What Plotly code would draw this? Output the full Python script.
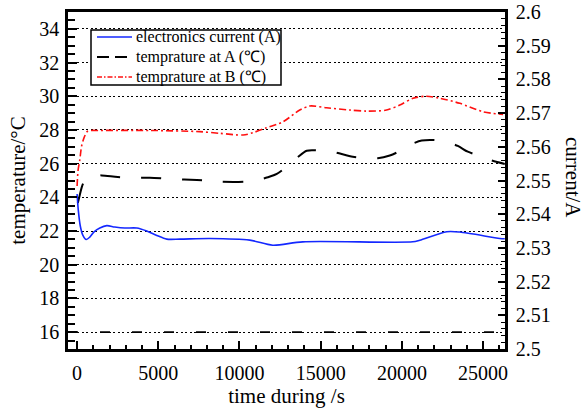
import plotly.graph_objects as go

# ---------------- data ----------------
time_current = [0, 74, 197, 351, 567, 782, 1028, 1398, 1829, 2321, 2937, 3676, 4292,
                4908, 5523, 6324, 8171, 10634, 12050, 13897, 20671, 21102, 22765,
                23565, 26028, 26336]
current_A = [2.5460, 2.5412, 2.5365, 2.5338, 2.5325, 2.5332, 2.5347, 2.5359, 2.5366,
             2.5362, 2.5359, 2.5359, 2.5350, 2.5337, 2.5326, 2.5326, 2.5328, 2.5323,
             2.5308, 2.5318, 2.5318, 2.5323, 2.5348, 2.5347, 2.5328, 2.5327]

time_A = [43, 166, 289, 413, 598, 967, 1521, 2506, 3553, 4477, 5893, 7371, 8171, 8787,
          10326, 11127, 11743, 12297, 13036, 13590, 14144, 14945, 15684, 16977, 17592,
          18516, 19255, 19871, 20487, 21226, 22026, 22765, 23442, 24058, 24797, 25413,
          26336]
temp_A = [23.66, 24.14, 24.61, 24.91, 25.15, 25.30, 25.30, 25.21, 25.15, 25.17, 25.09,
          25.03, 24.99, 24.93, 24.93, 25.03, 25.19, 25.39, 25.92, 26.39, 26.77, 26.78,
          26.71, 26.41, 26.35, 26.32, 26.48, 26.75, 27.11, 27.37, 27.40, 27.29, 27.05,
          26.71, 26.45, 26.22, 25.98]

time_B = [0, 62, 166, 271, 413, 616, 782, 1398, 4477, 7556, 8787, 10222, 10837, 11663,
          12685, 13713, 14329, 15357, 16792, 17820, 19052, 19871, 20690, 21515, 22334,
          23565, 25000, 26232]
temp_B = [24.67, 25.62, 26.22, 27.01, 27.50, 27.90, 27.96, 27.97, 27.97, 27.90, 27.80,
          27.70, 27.84, 28.13, 28.49, 29.18, 29.42, 29.32, 29.18, 29.12, 29.18, 29.48,
          29.88, 30.00, 29.88, 29.58, 29.08, 28.92]

x_range = [-560, 26350]
temp_range = [15, 35]
current_range = [2.5, 2.6]
ref_line_temp = 16

names = ["electronics current (A)", "temprature at A (\u2103)", "temprature at B (\u2103)"]
colors = ["#1428ff", "black", "#ff1010"]
dashes = ["solid", "20px,21px", "7px,3px,2px,3px"]
widths = [1.6, 2.0, 1.6]
legend_dashes = ["solid", "12px,6px", "5px,2px,1.5px,2px"]

FONT = "'Liberation Serif', 'Times New Roman', Times, serif"

fig = go.Figure()
fig.add_trace(go.Scatter(x=time_current, y=current_A, name=names[0], yaxis="y2",
                         mode="lines", line=dict(color=colors[0], width=widths[0],
                                                 shape="spline", smoothing=0.8)))
fig.add_trace(go.Scatter(x=time_A, y=temp_A, name=names[1], mode="lines",
                         line=dict(color=colors[1], width=widths[1], dash=dashes[1],
                                   shape="spline", smoothing=0.8)))
fig.add_trace(go.Scatter(x=time_B, y=temp_B, name=names[2], mode="lines",
                         line=dict(color=colors[2], width=widths[2], dash=dashes[2],
                                   shape="spline", smoothing=0.8)))

# dashed reference line at 16 °C
fig.add_shape(type="line", xref="paper", x0=0, x1=1, yref="y", y0=ref_line_temp,
              y1=ref_line_temp, layer="between",
              line=dict(color="black", width=1.8, dash="10px,22px"))

# ---- legend box drawn by hand (paper coordinates) ----
PW, PH, L, B = 437.0, 337.0, 68.0, 349.0
def px2paper(px, py):
    return (px - L) / PW, (B - py) / PH

bx0, by0 = px2paper(91, 85)
bx1, by1 = px2paper(281, 30)
fig.add_shape(type="rect", xref="paper", yref="paper", x0=bx0, y0=by0, x1=bx1, y1=by1,
              fillcolor="white", line=dict(color="black", width=1.5), layer="above")
rows_py = [37, 57, 77]
for i, py in enumerate(rows_py):
    lx0, ly = px2paper(97, py)
    lx1, _ = px2paper(132, py)
    fig.add_shape(type="line", xref="paper", yref="paper", x0=lx0, x1=lx1, y0=ly, y1=ly,
                  layer="above",
                  line=dict(color=colors[i], width=widths[i], dash=legend_dashes[i]))
    tx, _ = px2paper(134, py)
    fig.add_annotation(text=names[i], xref="paper", yref="paper", x=tx, y=ly,
                       xanchor="left", yanchor="middle", showarrow=False,
                       font=dict(family=FONT, size=16, color="black"))

rx, ry = px2paper(573, 177)
fig.add_annotation(text="current/A", xref="paper", yref="paper", x=rx, y=ry,
                   xanchor="center", yanchor="middle",
                   showarrow=False, textangle=90, font=dict(family=FONT, size=21,
                                                           color="black"))

tickfont = dict(family=FONT, size=20, color="black")
fig.update_layout(
    width=587, height=410,
    margin=dict(l=68, r=82, t=12, b=61, autoexpand=False),
    paper_bgcolor="white", plot_bgcolor="white",
    font=dict(family=FONT, size=20, color="black"),
    showlegend=False,
    xaxis=dict(range=x_range, tick0=0, dtick=5000, tickformat="d", showgrid=False,
               zeroline=False, automargin=False, tickfont=tickfont,
               showline=True, linecolor="black", linewidth=2.5, mirror=True,
               ticks="inside", ticklen=8, tickwidth=1.5, tickcolor="black",
               ticklabelstandoff=4,
               minor=dict(dtick=1000, ticks="inside", ticklen=4, tickwidth=1.5,
                          tickcolor="black", showgrid=False),
               title=dict(text="time during /s", font=dict(family=FONT, size=21),
                          standoff=0)),
    yaxis=dict(range=temp_range, tick0=0, dtick=2, showgrid=True, gridcolor="black",
               gridwidth=1.4, griddash="2px,2.5px", zeroline=False, automargin=False,
               tickfont=tickfont,
               showline=True, linecolor="black", linewidth=2.5, mirror=True,
               ticks="inside", ticklen=9, tickwidth=1.5, tickcolor="black",
               ticklabelstandoff=2,
               minor=dict(dtick=0.5, ticks="inside", ticklen=7, tickwidth=1.5,
                          tickcolor="black", showgrid=False),
               title=dict(text="temperature/\u00b0C", font=dict(family=FONT, size=21),
                          standoff=8)),
    yaxis2=dict(range=current_range, overlaying="y", side="right", tick0=2.5,
                dtick=0.01, showgrid=False, zeroline=False, showline=True,
                automargin=False, tickfont=tickfont,
                linecolor="black", linewidth=2.5, ticks="inside", ticklen=7,
                tickwidth=1.5, tickcolor="black", ticklabelstandoff=4,
                minor=dict(dtick=0.002, ticks="inside", ticklen=4, tickwidth=1.2,
                           tickcolor="black", showgrid=False)),
)

fig.write_html("out.html")
